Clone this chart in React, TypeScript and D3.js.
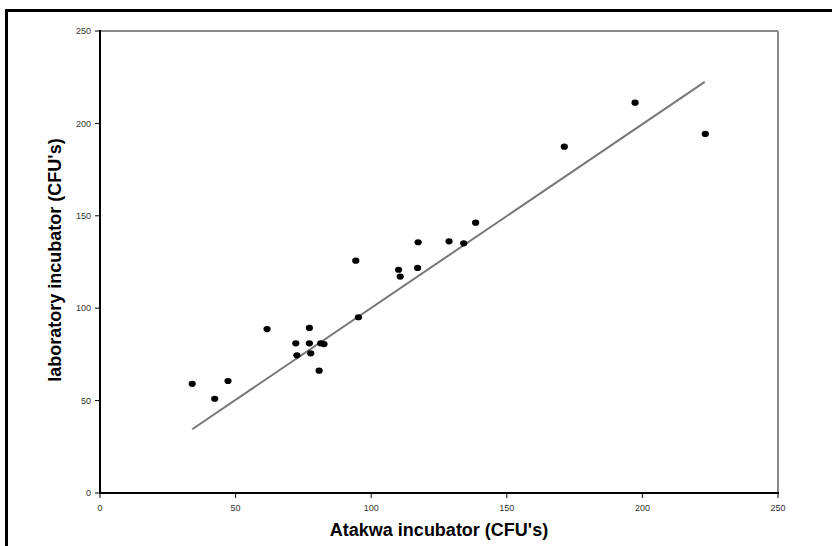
import React from "react";
import * as d3 from "d3";

const atakwa = [34.0, 42.3, 47.2, 61.6, 72.2, 72.6, 77.2, 77.2, 77.7, 80.8, 81.4, 82.6, 94.3, 95.3, 110.1, 110.7, 117.1, 117.3, 128.7, 134.1, 138.5, 171.2, 197.3, 223.2];
const laboratory = [59.1, 51.0, 60.6, 88.7, 81.0, 74.5, 89.3, 81.0, 75.6, 66.2, 81.0, 80.6, 125.7, 95.1, 120.8, 117.1, 121.8, 135.7, 136.2, 135.1, 146.3, 187.4, 211.2, 194.3];
const trendX = [34.0, 223.0];
const trendY = [34.5, 222.5];
const xTicks = [0, 50, 100, 150, 200, 250];
const yTicks = [0, 50, 100, 150, 200, 250];
const xTitle = "Atakwa incubator (CFU's)";
const yTitle = "laboratory incubator (CFU's)";

const W = 832;
const H = 546;
const left = 100, right = 778, top = 31, bottom = 493;

export default function App() {
  const x = d3.scaleLinear().domain([0, 250]).range([left, right]);
  const y = d3.scaleLinear().domain([0, 250]).range([bottom, top]);
  const pts = atakwa.map((v, i) => [v, laboratory[i]]);
  const line = d3.line<number>().x((d) => x(trendX[d])).y((d) => y(trendY[d]));
  const font = "'Liberation Sans', Arial, sans-serif";
  return (
    <svg width={W} height={H} style={{ position: "absolute", left: 0, top: 0, background: "#fff" }} fontFamily={font}>
      <rect x={0} y={0} width={W} height={H} fill="#fff" />
      {/* outer frame */}
      <line x1={6} y1={10.5} x2={W} y2={10.5} stroke="#000" strokeWidth={3} />
      <line x1={6.5} y1={9} x2={6.5} y2={H} stroke="#000" strokeWidth={3} />
      {/* plot frame */}
      <line x1={left} y1={top} x2={right} y2={top} stroke="#888" strokeWidth={2} />
      <line x1={right} y1={top} x2={right} y2={bottom} stroke="#888" strokeWidth={2} />
      {/* trend line */}
      <path d={line([0, 1]) || ""} stroke="#777" strokeWidth={2} fill="none" />
      {/* points */}
      {pts.map((p, i) => (
        <ellipse key={i} cx={x(p[0])} cy={y(p[1])} rx={3.6} ry={3.1} fill="#000" />
      ))}
      {/* axes */}
      <line x1={left} y1={top - 1} x2={left} y2={bottom + 1} stroke="#000" strokeWidth={2} />
      <line x1={left - 1} y1={bottom} x2={right + 1} y2={bottom} stroke="#000" strokeWidth={2} />
      {yTicks.map((t) => (
        <g key={"y" + t}>
          <line x1={left - 5} y1={y(t)} x2={left} y2={y(t)} stroke="#000" strokeWidth={1} />
          <text x={left - 9} y={y(t)} dy="0.35em" textAnchor="end" fontSize={9} fill="#333">{t}</text>
        </g>
      ))}
      {xTicks.map((t) => (
        <g key={"x" + t}>
          <line x1={x(t)} y1={bottom} x2={x(t)} y2={bottom + 5} stroke="#000" strokeWidth={1} />
          <text x={x(t)} y={bottom + 15} dy="0.35em" textAnchor="middle" fontSize={9} fill="#333">{t}</text>
        </g>
      ))}
      <text x={439} y={536} textAnchor="middle" fontSize={18} fontWeight="bold" fill="#000">{xTitle}</text>
      <text transform={`translate(61,260) rotate(-90)`} textAnchor="middle" fontSize={18} fontWeight="bold" fill="#000">{yTitle}</text>
    </svg>
  );
}
